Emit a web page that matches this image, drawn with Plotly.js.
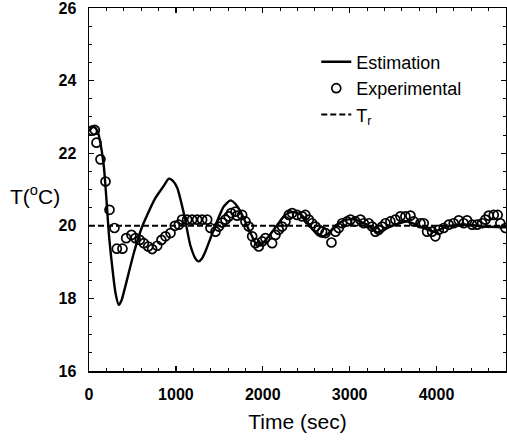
<!DOCTYPE html>
<html>
<head>
<meta charset="utf-8">
<script src="https://cdn.plot.ly/plotly-3.0.1.min.js"></script>
<style>
html,body{margin:0;padding:0;background:#fff;}
#chart{width:507px;height:441px;}
</style>
</head>
<body>
<div id="chart"></div>
<script>
// Estimation (solid curve)
const estTime = [0, 30, 60, 100, 132, 171, 201, 228, 267, 305, 343, 375, 420, 516, 612, 670, 760, 860, 919, 960, 1015, 1091, 1168, 1230, 1264, 1300, 1341, 1436, 1551, 1628, 1686, 1743, 1858, 1935, 1970, 2012, 2127, 2242, 2300, 2338, 2400, 2453, 2549, 2626, 2683, 2730, 2779, 2894, 2970, 3047, 3201, 3317, 3400, 3470, 3662, 3815, 3969, 4122, 4352, 4544, 4800];
const estTemp = [22.6, 22.7, 22.72, 22.6, 22.27, 21.63, 20.72, 19.8, 18.88, 18.15, 17.82, 17.95, 18.35, 19.25, 19.98, 20.3, 20.75, 21.1, 21.3, 21.25, 21.05, 20.35, 19.45, 19.08, 19.02, 19.1, 19.3, 19.89, 20.53, 20.7, 20.6, 20.4, 19.8, 19.45, 19.47, 19.55, 19.89, 20.26, 20.36, 20.38, 20.35, 20.28, 19.98, 19.76, 19.7, 19.74, 19.84, 20.1, 20.17, 20.18, 20.03, 19.82, 19.9, 19.98, 20.12, 19.98, 19.84, 19.98, 20.03, 19.98, 19.96];

// Experimental (open circles)
const expTime = [37, 67, 86, 132, 190, 236, 293, 320, 385, 428, 489, 535, 585, 631, 681, 727, 785, 834, 880, 938, 988, 1034, 1072, 1130, 1187, 1245, 1302, 1360, 1398, 1456, 1494, 1533, 1571, 1609, 1636, 1686, 1705, 1763, 1801, 1839, 1878, 1916, 1954, 1993, 2031, 2108, 2146, 2184, 2223, 2261, 2299, 2338, 2396, 2453, 2491, 2530, 2568, 2607, 2645, 2683, 2722, 2791, 2837, 2875, 2914, 2971, 3009, 3067, 3124, 3163, 3220, 3259, 3297, 3335, 3374, 3412, 3469, 3527, 3585, 3642, 3700, 3738, 3815, 3853, 3892, 3949, 3987, 4026, 4083, 4141, 4198, 4256, 4313, 4352, 4410, 4467, 4525, 4563, 4601, 4659, 4704, 4735, 4793];
const expTemp = [22.62, 22.64, 22.29, 21.83, 21.22, 20.44, 19.94, 19.37, 19.37, 19.66, 19.75, 19.66, 19.61, 19.52, 19.43, 19.36, 19.45, 19.61, 19.71, 19.8, 20.0, 20.03, 20.17, 20.17, 20.17, 20.17, 20.17, 20.17, 19.94, 19.84, 19.98, 20.09, 20.17, 20.26, 20.35, 20.39, 20.28, 20.3, 20.12, 19.98, 19.71, 19.52, 19.43, 19.57, 19.66, 19.52, 19.75, 19.89, 19.98, 20.12, 20.3, 20.35, 20.3, 20.26, 20.3, 20.17, 20.07, 19.98, 19.89, 19.84, 19.8, 19.54, 19.84, 19.94, 20.07, 20.12, 20.17, 20.12, 20.17, 20.07, 20.07, 19.98, 19.84, 19.89, 19.98, 20.07, 20.12, 20.17, 20.26, 20.26, 20.28, 20.12, 20.07, 20.07, 19.84, 19.84, 19.71, 19.89, 19.94, 20.03, 20.07, 20.15, 20.07, 20.15, 20.03, 20.03, 20.07, 20.17, 20.28, 20.3, 20.3, 20.07, 19.94];

// Reference temperature
const refTime = [0, 4800];
const refTemp = [20, 20];

const xTicks = [0, 1000, 2000, 3000, 4000];
const yTicks = [16, 18, 20, 22, 24, 26];

const traces = [
  {x: estTime, y: estTemp, mode: 'lines', name: 'Estimation',
   line: {color: '#000', width: 2.4, shape: 'spline', smoothing: 0.6}},
  {x: expTime, y: expTemp, mode: 'markers', name: 'Experimental',
   marker: {symbol: 'circle-open', size: 9, color: '#000', line: {width: 1.7, color: '#000'}}},
  {x: refTime, y: refTemp, mode: 'lines', name: 'T<sub>r</sub>',
   line: {color: '#000', width: 2, dash: '6px,3px'}}
];

const axisCommon = {
  showline: true, linecolor: '#000', linewidth: 1.5, mirror: 'ticks',
  ticks: 'inside', ticklen: 5, tickwidth: 1.3, tickcolor: '#000',
  showgrid: false, zeroline: false, ticklabeloverflow: 'allow',
  tickfont: {family: 'Liberation Sans, Arial, sans-serif', size: 16, color: '#000', weight: 'bold'}
};

const layout = {
  width: 507, height: 441,
  margin: {l: 89, r: 1, t: 8, b: 70},
  paper_bgcolor: '#fff', plot_bgcolor: '#fff',
  showlegend: true,
  legend: {x: 0.545, y: 0.902, xanchor: 'left', yanchor: 'top',
    bgcolor: 'rgba(0,0,0,0)', borderwidth: 0,
    font: {family: 'Liberation Sans, Arial, sans-serif', size: 18, color: '#000'}},
  xaxis: Object.assign({}, axisCommon, {
    range: [0, 4800], tickvals: xTicks, ticktext: xTicks.map(String),
    minor: {dtick: 200, ticks: 'inside', ticklen: 3, tickcolor: '#000', tickwidth: 1},
    ticklabelstandoff: 8,
    title: {text: 'Time (sec)', standoff: 12,
      font: {family: 'Liberation Sans, Arial, sans-serif', size: 21, color: '#000'}}
  }),
  yaxis: Object.assign({}, axisCommon, {
    range: [16, 26], tickvals: yTicks, ticktext: yTicks.map(String),
    minor: {dtick: 0.5, ticks: 'inside', ticklen: 3, tickcolor: '#000', tickwidth: 1},
    ticklabelstandoff: 8
  }),
  annotations: [{
    text: 'T(<sup>o</sup>C)', xref: 'paper', yref: 'paper',
    x: -0.13, y: 0.485, xanchor: 'center', yanchor: 'middle', showarrow: false,
    font: {family: 'Liberation Sans, Arial, sans-serif', size: 21, color: '#000'}
  }]
};

Plotly.newPlot('chart', traces, layout, {displayModeBar: false, staticPlot: true});
</script>
</body>
</html>
